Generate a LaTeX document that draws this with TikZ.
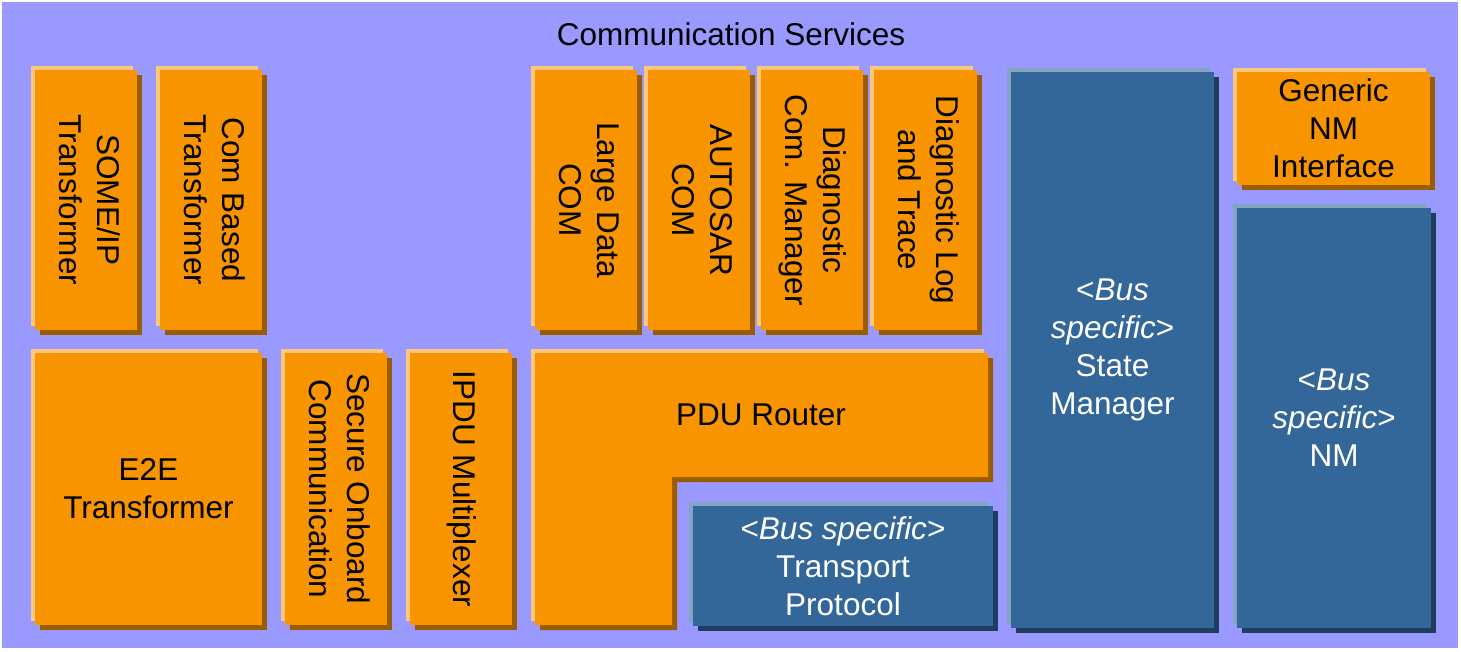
\documentclass[tikz,border=0pt]{standalone}
\usepackage{graphicx}
\usepackage{fontspec}
\setmainfont{Liberation Sans}
\usetikzlibrary{shadows}
\definecolor{bgpurple}{HTML}{9999FF}
\definecolor{modorange}{HTML}{F79400}
\definecolor{modorangelt}{HTML}{FBC77C}
\definecolor{modorangedk}{HTML}{9A5C00}
\definecolor{modblue}{HTML}{336699}
\definecolor{modbluelt}{HTML}{85A3C2}
\definecolor{modbluedk}{HTML}{1F3D5C}
\newcommand{\vtext}[1]{\rotatebox{-90}{\begin{tabular}{@{}c@{}}#1\end{tabular}}}
\newcommand{\busspec}{<\textit{Bus specific}>}
\tikzset{
  module/.style 2 args={rectangle, inner sep=0pt, align=center, minimum width=#1pt, minimum height=#2pt},
  orangemod/.style={fill=modorange, text=black,
    general shadow={fill=modorangelt, shadow xshift=-4pt, shadow yshift=4pt},
    general shadow={fill=modorangedk, shadow xshift=5pt, shadow yshift=-5pt}},
  bluemod/.style={fill=modblue, text=white,
    general shadow={fill=modbluelt, shadow xshift=-4pt, shadow yshift=4pt},
    general shadow={fill=modbluedk, shadow xshift=5pt, shadow yshift=-5pt}}
}
\begin{document}
\begin{tikzpicture}[x=1pt,y=-1pt,font=\fontsize{31.5}{38}\selectfont]
\useasboundingbox (0,0) rectangle (1461,652);
\fill[bgpurple] (2,2) rectangle (1458,648);
\node (title) at (731,34) {Communication Services};
% upper row
\node[orangemod,module={102}{260}] (someip) at (86,200) {\vtext{SOME/IP\\Transformer}};
\node[orangemod,module={102}{260}] (combased) at (211,200) {\vtext{Com Based\\Transformer}};
\node[orangemod,module={102}{260}] (lcom) at (586,200) {\vtext{Large Data\\COM}};
\node[orangemod,module={102}{260}] (com) at (699,200) {\vtext{AUTOSAR\\COM}};
\node[orangemod,module={102}{260}] (dcm) at (812,200) {\vtext{Diagnostic\\Com. Manager}};
\node[orangemod,module={103}{260}] (dlt) at (925.5,200) {\vtext{Diagnostic Log\\and Trace}};
% lower row
\node[orangemod,module={227}{272}] (e2e) at (148.5,489) {E2E\\Transformer};
\node[orangemod,module={102}{272}] (secoc) at (336,489) {\vtext{Secure Onboard\\Communication}};
\node[orangemod,module={102}{272}] (ipdum) at (461,489) {\vtext{IPDU Multiplexer}};
\def\pdurpath{(535,353) -- (988,353) -- (988,477) -- (672,477) -- (672,625) -- (535,625) -- cycle}
\fill[modorangelt,shift={(-4,-4)}] \pdurpath;
\fill[modorangedk,shift={(5,5)}] \pdurpath;
\fill[modorange] \pdurpath;
\node (pdur) at (761,415) {PDU Router};
\node[bluemod,module={300}{120}] (tp) at (843,566) {\busspec\\Transport\\Protocol};
% bus specific column
\node[bluemod,module={203}{556}] (sm) at (1112.5,350) {<\textit{Bus}\\\textit{specific}>\\State\\Manager};
\node[orangemod,module={193}{113}] (nmif) at (1333.5,128.5) {Generic\\NM\\Interface};
\node[bluemod,module={194}{420}] (nm) at (1334,418) {<\textit{Bus}\\\textit{specific}>\\NM};
\end{tikzpicture}
\end{document}
